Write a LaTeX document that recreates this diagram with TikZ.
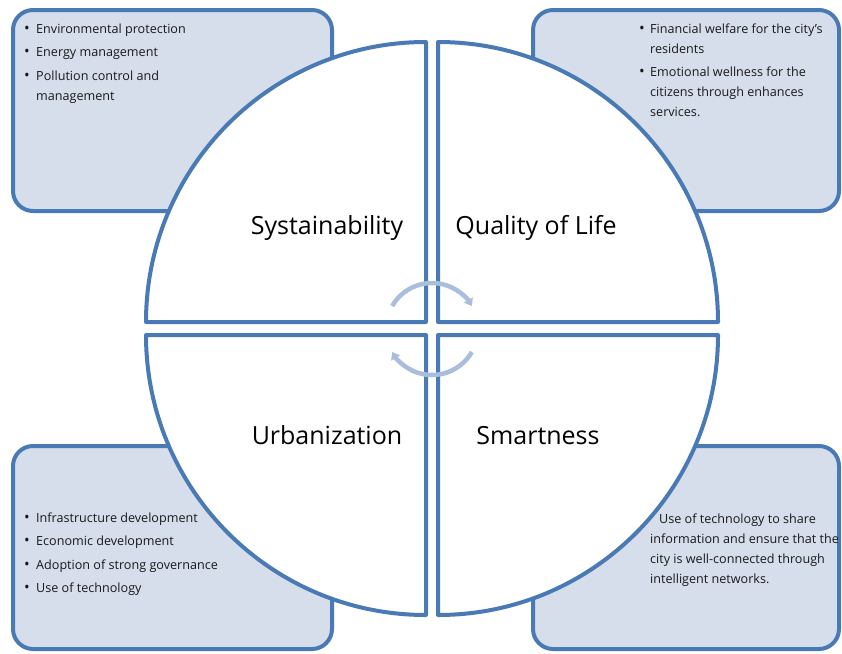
\documentclass[tikz,border=0pt]{standalone}
\usepackage{fontspec}
\setmainfont{Open Sans}
\usetikzlibrary{arrows.meta}
\definecolor{bord}{HTML}{4A7AB6}
\definecolor{boxfill}{HTML}{D6DEEB}
\definecolor{cyc}{HTML}{A9BDDC}
\begin{document}
\begin{tikzpicture}[x=1pt,y=-1pt,
  box/.style={draw=bord,fill=boxfill,line width=4pt,rounded corners=20pt},
  quad/.style={draw=bord,fill=white,line width=4pt,line join=round},
  lab/.style={anchor=base,inner sep=0pt,font=\fontsize{25}{30}\selectfont,text=black},
  itm/.style={anchor=base west,inner sep=0pt,font=\fontsize{12.6}{15}\selectfont,text=black!90},
  bul/.style={anchor=base west,inner sep=0pt,font=\fontsize{15}{15}\selectfont,text=black!90},
  cycarr/.style={draw=cyc,line width=4.5pt,-{Triangle[width=10pt,length=7pt]}}]
\useasboundingbox (0,0) rectangle (842,653);
% side boxes
\draw[box] (13,10) rectangle (332,211);
\draw[box] (533,10) rectangle (839,211);
\draw[box] (13,446) rectangle (332,649);
\draw[box] (533,446) rectangle (839,649);
% quadrants
\draw[quad] (426,42) -- (426,322) -- (146,322) arc[start angle=180,end angle=270,radius=280] -- cycle;
\draw[quad] (718,322) -- (438,322) -- (438,42) arc[start angle=270,end angle=360,radius=280] -- cycle;
\draw[quad] (426,615) -- (426,335) -- (146,335) arc[start angle=180,end angle=90,radius=280] -- cycle;
\draw[quad] (718,335) -- (438,335) -- (438,615) arc[start angle=90,end angle=0,radius=280] -- cycle;
% cycle arrows
\coordinate (c) at (432,329);
\draw[cycarr] ([shift={(210:46)}]c) arc[start angle=210,end angle=330,radius=46];
\draw[cycarr] ([shift={(30:46)}]c) arc[start angle=30,end angle=150,radius=46];
% labels
\node[lab] (l1) at (327,234) {Systainability};
\node[lab] (l2) at (536,234) {Quality of Life};
\node[lab] (l3) at (327,444) {Urbanization};
\node[lab] (l4) at (538,444) {Smartness};
% top-left box
\node[bul] (a0) at (24,33) {•};
\node[itm] (a1) at (36,33) {Environmental protection};
\node[bul] (b0) at (24,56.5) {•};
\node[itm] (b1) at (36,56.5) {Energy management};
\node[bul] (c0) at (24,80) {•};
\node[itm] (c1) at (36,80) {Pollution control and};
\node[itm] (c2) at (36,100) {management};
% top-right box
\node[bul] (d0) at (639,33) {•};
\node[itm] (d1) at (650,33) {Financial welfare for the city{\char"27}s};
\node[itm] (d2) at (650,53) {residents};
\node[bul] (e0) at (639,76.5) {•};
\node[itm] (e1) at (650,76.5) {Emotional wellness for the};
\node[itm] (e2) at (650,96.5) {citizens through enhances};
\node[itm] (e3) at (650,116.5) {services.};
% bottom-left box
\node[bul] (f0) at (24,522) {•};
\node[itm] (f1) at (36,522) {Infrastructure development};
\node[bul] (g0) at (24,545.5) {•};
\node[itm] (g1) at (36,545.5) {Economic development};
\node[bul] (h0) at (24,569) {•};
\node[itm] (h1) at (36,569) {Adoption of strong governance};
\node[bul] (i0) at (24,592.5) {•};
\node[itm] (i1) at (36,592.5) {Use of technology};
% bottom-right box
\node[itm] (j1) at (659,523) {Use of technology to share};
\node[itm] (j2) at (650,543.5) {information and ensure that the};
\node[itm] (j3) at (650,563.5) {city is well-connected through};
\node[itm] (j4) at (650,583.5) {intelligent networks.};
\end{tikzpicture}
\end{document}
